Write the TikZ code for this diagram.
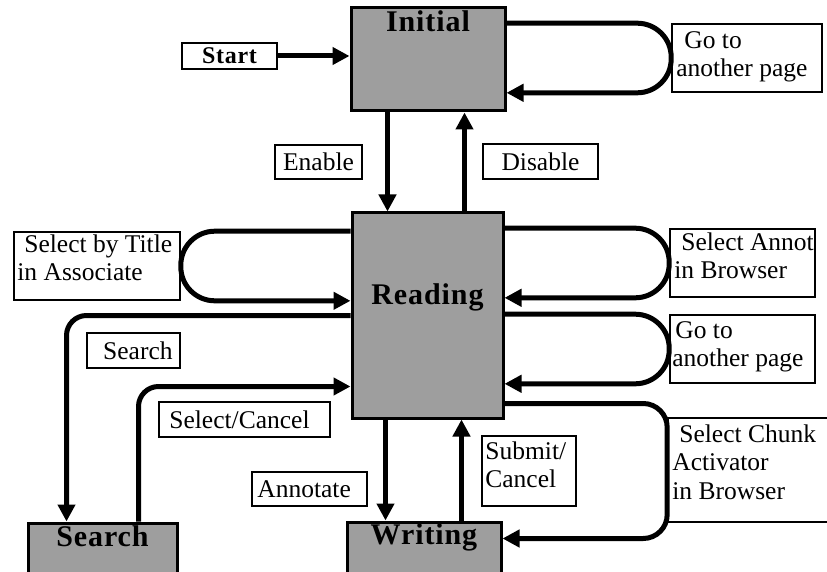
\documentclass[tikz,border=0pt]{standalone}
\usepackage{fontspec}
\setmainfont{Liberation Serif}
\newfontfamily\spaced[LetterSpace=3.0]{Liberation Serif}
\usetikzlibrary{arrows.meta}
\begin{document}
\begin{tikzpicture}[x=1pt,y=-1pt,
  every node/.style={inner sep=0pt},
  state/.style={draw,line width=3pt,fill=black!38},
  statelabel/.style={font=\spaced\fontsize{30}{32}\selectfont\bfseries},
  tag/.style={draw,line width=1.6pt,fill=white},
  tagtext/.style={font=\fontsize{25.5}{28.5}\selectfont,align=left,inner sep=0pt},
  conn/.style={line width=5pt,-{Triangle[length=17pt,width=17pt]}}
]
\clip (0,0) rectangle (827,572);

% states
\node[state,minimum width=154pt,minimum height=103pt,
  label={[statelabel,anchor=north,yshift=-4pt]north:Initial}] (Initial) at (428,59.5) {};
\node[state,minimum width=151pt,minimum height=205pt,
  label={[statelabel,yshift=18pt]center:Reading}] (Reading) at (427.5,315.5) {};
\node[state,minimum width=149pt,minimum height=67pt,
  label={[statelabel,anchor=north,yshift=-4pt]north:Search}] (Search) at (102.5,556.5) {};
\node[state,minimum width=154pt,minimum height=68pt,
  label={[statelabel,anchor=north,yshift=-3pt]north:Writing}] (Writing) at (424,556) {};

% event labels
\node[tag,minimum width=95pt,minimum height=26pt,
  label={[font=\spaced\fontsize{24}{26}\selectfont\bfseries]center:Start}] (Start) at (229.5,56) {};
\node[tag,minimum width=150pt,minimum height=68pt,
  label={[tagtext,anchor=north west,xshift=5pt,yshift=-8pt]north west:{\hspace{8pt}Go to\\another page}}]
  (GoA) at (747,58) {};
\node[tag,minimum width=87pt,minimum height=34pt,
  label={[tagtext]center:Enable}] (Enable) at (318.5,162) {};
\node[tag,minimum width=115pt,minimum height=35pt,
  label={[tagtext]center:Disable}] (Disable) at (540.5,161.5) {};
\node[tag,minimum width=166pt,minimum height=68pt,
  label={[tagtext,anchor=north west,xshift=4pt,yshift=-3pt]north west:{\hspace{7pt}Select by Title\\in Associate}}]
  (SbT) at (97,266) {};
\node[tag,minimum width=145pt,minimum height=68pt,
  label={[tagtext,anchor=north west,xshift=5pt,yshift=-4pt]north west:{\hspace{7pt}Select Annot\\in Browser}}]
  (SA) at (742.5,263) {};
\node[tag,minimum width=145pt,minimum height=68pt,
  label={[tagtext,anchor=north west,xshift=3pt,yshift=-7pt]north west:{\hspace{3pt}Go to\\another page}}]
  (GoB) at (742.5,349) {};
\node[tag,minimum width=93pt,minimum height=35pt,
  label={[tagtext,anchor=east,xshift=-8pt]east:Search}] (SearchL) at (133.5,350.5) {};
\node[tag,minimum width=171pt,minimum height=35pt,
  label={[tagtext,anchor=west,xshift=11pt]west:Select/Cancel}] (SelCan) at (244.5,419.5) {};
\node[tag,minimum width=115pt,minimum height=34pt,
  label={[tagtext,anchor=west,xshift=6pt]west:Annotate}] (Annot) at (309.5,489) {};
\node[tag,minimum width=94pt,minimum height=70pt,
  label={[tagtext,anchor=north west,xshift=4pt,yshift=-6pt]north west:{Submit/\\Cancel}}]
  (Submit) at (529,471) {};
\node[tag,minimum width=167pt,minimum height=104pt,
  label={[tagtext,anchor=north west,xshift=5pt,yshift=-7pt]north west:{\hspace{7pt}Select Chunk\\Activator\\in Browser}}]
  (Chunk) at (751.5,470) {};

% transitions
\draw[conn] (Start.east) -- (Start.east -| Initial.west);
\draw[conn,rounded corners=34pt] (Initial.east |- GoA.north) -- (GoA.north west)
  -- (GoA.south west) -- (Initial.east |- GoA.south);
\draw[conn] ([xshift=38pt]Initial.south west) -- ([xshift=37pt]Reading.north west);
\draw[conn] ([xshift=114pt]Reading.north west) -- ([xshift=115pt]Initial.south west);
\draw[conn,rounded corners=34pt] (Reading.west |- SbT.north) -- (SbT.north east)
  -- (SbT.south east) -- (Reading.west |- SbT.south);
\draw[conn,rounded corners=34pt] (Reading.east |- SA.north) -- (SA.north west)
  -- (SA.south west) -- (Reading.east |- SA.south);
\draw[conn,rounded corners=34pt] (Reading.east |- GoB.north) -- (GoB.north west)
  -- (GoB.south west) -- (Reading.east |- GoB.south);
\draw[conn,rounded corners=20pt] ([yshift=-104pt]Reading.north west) -| ([xshift=40pt]Search.north west);
\draw[conn,rounded corners=20pt] ([xshift=112pt]Search.north west) |- ([yshift=33pt]Reading.south west);
\draw[conn] ([xshift=35pt]Reading.south west) -- ([xshift=40pt]Writing.north west);
\draw[conn] ([xshift=116pt]Writing.north west) -- ([xshift=111pt]Reading.south west);
\coordinate (rOut) at ([yshift=16pt]Reading.south east);
\coordinate (wIn) at ([yshift=-18pt]Writing.north east);
\draw[conn,rounded corners=24pt] (rOut) -- (rOut -| Chunk.west) -- (wIn -| Chunk.west) -- (wIn);
\end{tikzpicture}
\end{document}
